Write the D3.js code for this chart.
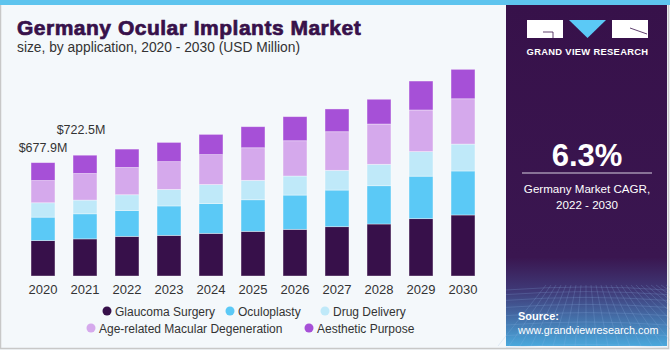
<!DOCTYPE html>
<html>
<head>
<meta charset="utf-8">
<script src="https://cdn.jsdelivr.net/npm/d3@7"></script>
<style>
  html, body { margin: 0; padding: 0; background: #fff; }
  svg { display: block; font-family: "Liberation Sans", Arial, sans-serif; }
</style>
</head>
<body>
<div id="chart"></div>
<script>
// data (USD Million)
const years = ["2020","2021","2022","2023","2024","2025","2026","2027","2028","2029","2030"];
const segments = ["Glaucoma Surgery", "Oculoplasty", "Drug Delivery", "Age-related Macular Degeneration", "Aesthetic Purpose"];
const glaucoma  = [212, 222, 237, 243, 255, 267, 279, 295, 311, 343, 365];
const oculoplasty = [140, 150, 155, 176, 178, 189, 205, 219, 229, 254, 263];
const drugDelivery = [86, 82, 94, 99, 114, 116, 114, 118, 128, 147, 161];
const amd = [133, 159, 163, 166, 179, 195, 211, 231, 241, 249, 271];
const aesthetic = [107, 109.5, 110, 115, 121, 126, 144, 136, 148, 173, 176];
const valueLabels = ["$677.9M", "$722.5M"];
const colors = ["#37104a", "#5bc9f6", "#bfe9f9", "#d5a9ec", "#a650d7"];

const W = 670, H = 350;
const svg = d3.select("#chart").append("svg")
  .attr("width", W).attr("height", H);

// background + frame
svg.append("rect").attr("x", 0).attr("y", 0).attr("width", W).attr("height", H).attr("fill", "#f4f8fb");
svg.append("rect").attr("x", 0.5).attr("y", 0.5).attr("width", W - 2).attr("height", H - 2)
  .attr("fill", "none").attr("stroke", "#c8c8c8").attr("stroke-width", 1.5);
svg.append("rect").attr("x", 0).attr("y", 0).attr("width", W).attr("height", 5).attr("fill", "#5ec4ee");

// right panel
const defs = svg.append("defs");
const grad = defs.append("linearGradient").attr("id", "pgrad").attr("x1", 0).attr("y1", 0).attr("x2", 0).attr("y2", 1);
grad.append("stop").attr("offset", "0%").attr("stop-color", "#37114a");
grad.append("stop").attr("offset", "74%").attr("stop-color", "#3a1650");
grad.append("stop").attr("offset", "84%").attr("stop-color", "#3f3a78");
grad.append("stop").attr("offset", "100%").attr("stop-color", "#4aa8dc");
svg.append("rect").attr("x", 506).attr("y", 5).attr("width", 161).attr("height", 341).attr("fill", "url(#pgrad)");

// faint grid at bottom of panel
const gridG = svg.append("g").attr("stroke", "#8fb6e6").attr("stroke-opacity", 0.35).attr("stroke-width", 0.6).attr("fill", "none");
for (let i = 0; i < 10; i++) {
  const yy = 290 + i * i * 0.6 + i * 4;
  gridG.append("path").attr("d", `M506,${yy} Q586,${yy - 6} 667,${yy}`);
}
for (let i = -8; i <= 20; i++) {
  gridG.append("line").attr("x1", 586 + i * 5).attr("y1", 285).attr("x2", 586 + i * 11).attr("y2", 346);
}

// logo
const logo = svg.append("g");
logo.append("rect").attr("x", 527).attr("y", 20).attr("width", 36).attr("height", 18).attr("fill", "#fff");
logo.append("path").attr("d", "M543,32 L553,32 L553,38").attr("stroke", "#37114a").attr("stroke-width", 0.8).attr("fill", "none");
logo.append("path").attr("d", "M569,20 L606,20 L587.5,38 Z").attr("fill", "#5bc9f6");
logo.append("rect").attr("x", 612).attr("y", 20).attr("width", 36).attr("height", 18).attr("fill", "#fff");
logo.append("path").attr("d", "M630,28 L647,34").attr("stroke", "#37114a").attr("stroke-width", 0.8);
svg.append("text").attr("x", 587.5).attr("y", 54.5).attr("text-anchor", "middle")
  .attr("fill", "#fff").attr("font-size", 9.4).attr("font-weight", "bold").attr("letter-spacing", 0.3)
  .text("GRAND VIEW RESEARCH");

svg.append("text").attr("x", 587).attr("y", 166).attr("text-anchor", "middle")
  .attr("fill", "#fff").attr("font-size", 31).attr("font-weight", "bold").text("6.3%");
svg.append("line").attr("x1", 522).attr("x2", 652).attr("y1", 173).attr("y2", 173).attr("stroke", "#d8d0e0").attr("stroke-width", 1);
svg.append("text").attr("x", 587).attr("y", 193).attr("text-anchor", "middle")
  .attr("fill", "#fff").attr("font-size", 11.6).text("Germany Market CAGR,");
svg.append("text").attr("x", 587).attr("y", 209).attr("text-anchor", "middle")
  .attr("fill", "#fff").attr("font-size", 11.6).text("2022 - 2030");
svg.append("text").attr("x", 518).attr("y", 320).attr("fill", "#fff").attr("font-size", 11).attr("font-weight", "bold").text("Source:");
svg.append("text").attr("x", 518).attr("y", 334).attr("fill", "#fff").attr("font-size", 10.8).text("www.grandviewresearch.com");

// titles
svg.append("text").attr("x", 17).attr("y", 35).attr("fill", "#37114a")
  .attr("font-size", 21).attr("font-weight", "bold")
  .attr("stroke", "#37114a").attr("stroke-width", 0.7)
  .attr("letter-spacing", 0.5)
  .text("Germany Ocular Implants Market");
svg.append("text").attr("x", 17).attr("y", 52).attr("fill", "#333")
  .attr("font-size", 13.8).text("size, by application, 2020 - 2030 (USD Million)");

// stacked bars
const table = years.map((yr, i) => ({
  year: yr,
  [segments[0]]: glaucoma[i],
  [segments[1]]: oculoplasty[i],
  [segments[2]]: drugDelivery[i],
  [segments[3]]: amd[i],
  [segments[4]]: aesthetic[i]
}));
const stacked = d3.stack().keys(segments)(table);

const x = d3.scaleBand().domain(years).range([22, 484]).paddingInner(0.43).paddingOuter(0.215);
const y = d3.scaleLinear().domain([0, 1000]).range([276, 108.8]);
const color = d3.scaleOrdinal().domain(segments).range(colors);

svg.append("g")
  .selectAll("g")
  .data(stacked)
  .join("g")
  .attr("fill", d => color(d.key))
  .selectAll("rect")
  .data(d => d)
  .join("rect")
  .attr("x", d => x(d.data.year))
  .attr("y", d => y(d[1]))
  .attr("width", x.bandwidth())
  .attr("height", d => y(d[0]) - y(d[1]))
  .attr("stroke", "#ffffff")
  .attr("stroke-opacity", 0.45)
  .attr("stroke-width", 0.8);

// x axis labels
const xAxis = svg.append("g").attr("transform", "translate(0,276)")
  .call(d3.axisBottom(x).tickSize(0).tickPadding(9));
xAxis.select(".domain").remove();
xAxis.selectAll("text").attr("font-size", 13).attr("fill", "#333").attr("font-family", "'Liberation Sans', Arial, sans-serif");

// value labels on first two bars
const totals = table.map(d => segments.reduce((s, k) => s + d[k], 0));
const labelOffsets = [[0, 11], [-4, 21]];
valueLabels.forEach((t, i) => {
  svg.append("text")
    .attr("x", x(years[i]) + x.bandwidth() / 2 + labelOffsets[i][0])
    .attr("y", y(totals[i]) - labelOffsets[i][1])
    .attr("text-anchor", "middle").attr("font-size", 12.5).attr("fill", "#333")
    .text(t);
});

// legend
const legendItems = [
  { row: 0, x: 107 }, { row: 0, x: 230 }, { row: 0, x: 325 },
  { row: 1, x: 91 }, { row: 1, x: 309 }
];
const lg = svg.append("g");
segments.forEach((s, i) => {
  const it = legendItems[i];
  const cy = 311 + it.row * 17;
  lg.append("circle").attr("cx", it.x).attr("cy", cy).attr("r", 4.5).attr("fill", colors[i]);
  lg.append("text").attr("x", it.x + 8).attr("y", cy + 4.5).attr("font-size", 12).attr("fill", "#333").text(s);
});
</script>
</body>
</html>
